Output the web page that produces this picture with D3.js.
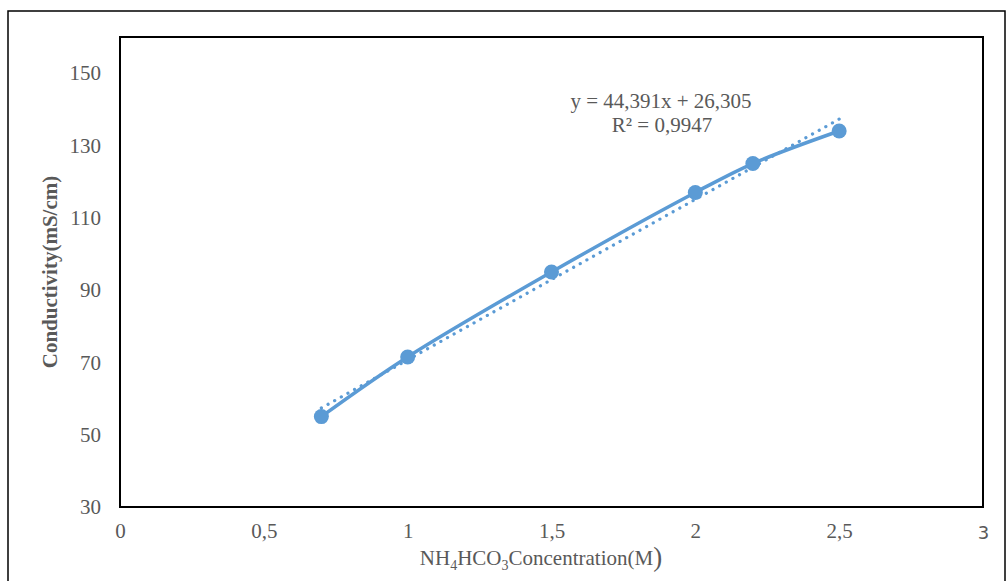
<!DOCTYPE html>
<html><head><meta charset="utf-8">
<script src="https://cdn.jsdelivr.net/npm/d3@7"></script>
<style>body{margin:0;background:#fff}svg{display:block}</style>
</head><body>
<svg id="c" width="1007" height="581"></svg>
<script>
const concentration = [0.7, 1, 1.5, 2, 2.2, 2.5];
const conductivity = [55, 71.5, 95, 117, 125, 134];
const xTicks = [0, 0.5, 1, 1.5, 2, 2.5, 3];
const xTickLabels = ["0", "0,5", "1", "1,5", "2", "2,5", "3"];
const yTicks = [30, 50, 70, 90, 110, 130, 150];
const trendSlope = 44.391, trendIntercept = 26.305;
const equationLines = ["y = 44,391x + 26,305", "R² = 0,9947"];

const svg = d3.select("#c");
const L = 120, R = 983, T = 37, B = 507;
const x = d3.scaleLinear().domain([0, 3]).range([L, R]);
const y = d3.scaleLinear().domain([30, 160]).range([B, T]);
const col = "#5B9BD5", txt = "#595959", serif = "'Liberation Serif','Times New Roman',serif";
const FS = 21;

svg.append("rect").attr("x", 8).attr("y", 11).attr("width", 997).attr("height", 600)
  .attr("fill", "none").attr("stroke", "#000").attr("stroke-width", 1.5);

// axes labels
const xa = svg.append("g").attr("transform", `translate(0,${B})`)
  .call(d3.axisBottom(x).tickValues(xTicks).tickSize(0).tickPadding(16)
    .tickFormat((d, i) => xTickLabels[i]));
xa.select(".domain").remove();
xa.selectAll("text").attr("font-family", (d, i) => i === 6 ? "'DejaVu Sans',sans-serif" : serif)
  .attr("font-size", (d, i) => i === 6 ? 18 : FS).attr("fill", txt)
  .attr("y", (d, i) => i === 6 ? 19 : 16);

const ya = svg.append("g").attr("transform", `translate(${L},0)`)
  .call(d3.axisLeft(y).tickValues(yTicks).tickSize(0).tickPadding(19));
ya.select(".domain").remove();
ya.selectAll("text").attr("font-family", serif).attr("font-size", FS).attr("fill", txt);

// plot border
svg.append("rect").attr("x", L).attr("y", T).attr("width", R - L).attr("height", B - T)
  .attr("fill", "none").attr("stroke", "#000").attr("stroke-width", 2);

// trendline
const x0 = d3.min(concentration), x1 = d3.max(concentration);
svg.append("line")
  .attr("x1", x(x0)).attr("y1", y(trendSlope * x0 + trendIntercept))
  .attr("x2", x(x1)).attr("y2", y(trendSlope * x1 + trendIntercept))
  .attr("stroke", col).attr("stroke-width", 3.2).attr("stroke-linecap", "round")
  .attr("stroke-dasharray", "0.1 7.5");

// smooth line
const data = concentration.map((c, i) => [c, conductivity[i]]);
svg.append("path").datum(data)
  .attr("d", d3.line().x(d => x(d[0])).y(d => y(d[1])).curve(d3.curveCatmullRom.alpha(0.5)))
  .attr("fill", "none").attr("stroke", col).attr("stroke-width", 3.5).attr("stroke-linecap", "round");

svg.selectAll("circle.pt").data(data).enter().append("circle")
  .attr("cx", d => x(d[0])).attr("cy", d => y(d[1])).attr("r", 7.5).attr("fill", col);

// equation
svg.append("text").attr("x", 661).attr("y", 108).attr("text-anchor", "middle")
  .attr("font-family", serif).attr("font-size", FS).attr("fill", txt).text(equationLines[0]);
svg.append("text").attr("x", 662).attr("y", 132).attr("text-anchor", "middle")
  .attr("font-family", serif).attr("font-size", FS).attr("fill", txt).text(equationLines[1]);

// axis titles
svg.append("text").attr("transform", "translate(57,272) rotate(-90)").attr("text-anchor", "middle")
  .attr("font-family", serif).attr("font-size", FS).attr("font-weight", "bold").attr("fill", txt)
  .text("Conductivity(mS/cm)");

const xt = svg.append("text").attr("x", 541).attr("y", 565).attr("text-anchor", "middle")
  .attr("font-family", serif).attr("font-size", FS).attr("fill", txt);
xt.append("tspan").text("NH");
xt.append("tspan").attr("font-size", 14).attr("dy", 5).text("4");
xt.append("tspan").attr("dy", -5).text("HCO");
xt.append("tspan").attr("font-size", 14).attr("dy", 5).text("3");
xt.append("tspan").attr("dy", -5).text("Concentration(M");
xt.append("tspan").attr("font-size", 27).attr("dy", 1).text(")");
</script>
</body></html>
